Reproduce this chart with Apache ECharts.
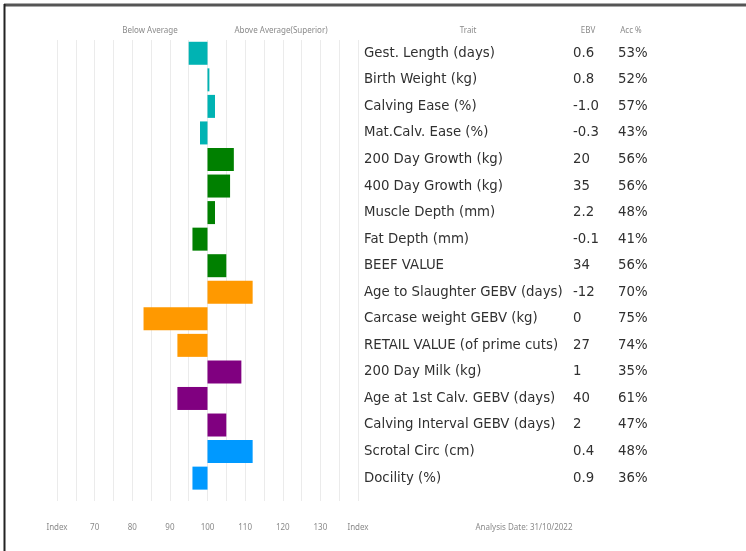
<!DOCTYPE html>
<html>
<head>
<meta charset="utf-8">
<script src="https://cdn.jsdelivr.net/npm/echarts@6/dist/echarts.min.js"></script>
<style>
  html, body { margin: 0; padding: 0; background: #fff; }
  #chart { width: 746px; height: 551px; }
</style>
</head>
<body>
<div id="chart"></div>
<script>
// Trait rows, top to bottom
const traits = [
  'Gest. Length (days)', 'Birth Weight (kg)', 'Calving Ease (%)', 'Mat.Calv. Ease (%)',
  '200 Day Growth (kg)', '400 Day Growth (kg)', 'Muscle Depth (mm)', 'Fat Depth (mm)',
  'BEEF VALUE', 'Age to Slaughter GEBV (days)', 'Carcase weight GEBV (kg)',
  'RETAIL VALUE (of prime cuts)', '200 Day Milk (kg)', 'Age at 1st Calv. GEBV (days)',
  'Calving Interval GEBV (days)', 'Scrotal Circ (cm)', 'Docility (%)'
];
const ebvValues = ['0.6', '0.8', '-1.0', '-0.3', '20', '35', '2.2', '-0.1', '34',
  '-12', '0', '27', '1', '40', '2', '0.4', '0.9'];
const accuracy = ['53%', '52%', '57%', '43%', '56%', '56%', '48%', '41%', '56%',
  '70%', '75%', '74%', '35%', '61%', '47%', '48%', '36%'];
// Index score per trait (100 = breed average)
const indexScores = [95, 100.5, 102, 98, 107, 106, 102, 96, 105,
  112, 83, 92, 109, 92, 105, 112, 96];
const traitGroups = ['calving', 'calving', 'calving', 'calving',
  'growth', 'growth', 'growth', 'growth', 'growth',
  'carcase', 'carcase', 'carcase',
  'maternal', 'maternal', 'maternal',
  'other', 'other'];
const groupColors = {
  calving: '#00b3b3', growth: '#008000', carcase: '#ff9900',
  maternal: '#800080', other: '#0099ff'
};
const indexTicks = { 60: 'Index', 70: '70', 80: '80', 90: '90', 100: '100',
  110: '110', 120: '120', 130: '130', 140: 'Index' };
const averageIndex = 100;

const chart = echarts.init(document.getElementById('chart'), null, { renderer: 'canvas' });

const smallText = { fontFamily: 'Noto Sans', fontSize: 8, fill: '#8a8a8a' };
const rowText = { fontFamily: 'DejaVu Sans', fontSize: 13.3, color: '#303030' };

chart.setOption({
  animation: false,
  backgroundColor: '#fff',
  grid: [
    { left: 57, right: 388, top: 40, bottom: 50 },
    { left: 57, right: 388, top: 40, bottom: 59.6 }
  ],
  xAxis: [
    {
      gridIndex: 0, type: 'value', min: 60, max: 140, interval: 5,
      axisLine: { show: false }, axisTick: { show: false },
      splitLine: { show: true, lineStyle: { color: '#ebebeb', width: 1 } },
      axisLabel: {
        margin: 23, fontFamily: 'Noto Sans', fontSize: 8, color: '#8a8a8a',
        formatter: v => indexTicks[v] || ''
      }
    },
    { gridIndex: 1, type: 'value', min: -40, max: 40, show: false }
  ],
  yAxis: [
    { gridIndex: 0, type: 'value', min: 0, max: 1, show: false },
    {
      gridIndex: 1, type: 'category', data: traits, inverse: true, position: 'right',
      offset: 6, axisLine: { show: false }, axisTick: { show: false },
      axisLabel: Object.assign({ align: 'left', margin: 0 }, rowText)
    },
    {
      gridIndex: 1, type: 'category', data: ebvValues, inverse: true, position: 'right',
      offset: 215, axisLine: { show: false }, axisTick: { show: false },
      axisLabel: Object.assign({ align: 'left', margin: 0 }, rowText)
    },
    {
      gridIndex: 1, type: 'category', data: accuracy, inverse: true, position: 'right',
      offset: 260, axisLine: { show: false }, axisTick: { show: false },
      axisLabel: Object.assign({ align: 'left', margin: 0 }, rowText)
    }
  ],
  series: [{
    type: 'bar',
    xAxisIndex: 1,
    yAxisIndex: 1,
    barWidth: 23,
    data: indexScores.map((v, i) => ({
      value: v - averageIndex,
      itemStyle: { color: groupColors[traitGroups[i]] }
    }))
  }],
  graphic: [
    { type: 'line', shape: { x1: 4, y1: 5, x2: 746, y2: 5 }, style: { stroke: '#555', lineWidth: 3 } },
    { type: 'line', shape: { x1: 4.5, y1: 4, x2: 4.5, y2: 551 }, style: { stroke: '#222', lineWidth: 2 } },
    { type: 'text', x: 150, y: 31, style: Object.assign({ text: 'Below Average', align: 'center', verticalAlign: 'middle' }, smallText) },
    { type: 'text', x: 281, y: 31, style: Object.assign({ text: 'Above Average(Superior)', align: 'center', verticalAlign: 'middle' }, smallText) },
    { type: 'text', x: 468, y: 31, style: Object.assign({ text: 'Trait', align: 'center', verticalAlign: 'middle' }, smallText) },
    { type: 'text', x: 588, y: 31, style: Object.assign({ text: 'EBV', align: 'center', verticalAlign: 'middle' }, smallText) },
    { type: 'text', x: 631, y: 31, style: Object.assign({ text: 'Acc %', align: 'center', verticalAlign: 'middle' }, smallText) },
    { type: 'text', x: 524, y: 528, style: Object.assign({ text: 'Analysis Date: 31/10/2022', align: 'center', verticalAlign: 'middle' }, smallText) }
  ]
});
</script>
</body>
</html>
